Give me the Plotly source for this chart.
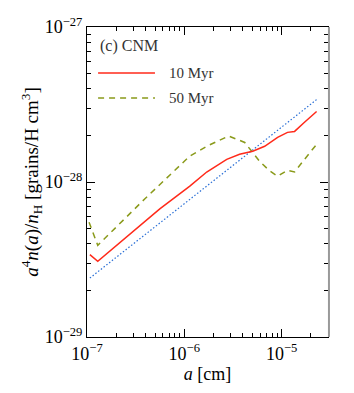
import plotly.graph_objects as go

# grain size a [cm] and a^4 n(a)/n_H [grains/H cm^3]
a_10 = [1.07e-7, 1.29e-7, 5.6e-7, 1.14e-6, 1.70e-6, 2.73e-6, 3.7e-6, 5.05e-6,
        6.7e-6, 9.1e-6, 1.15e-5, 1.36e-5, 1.72e-5, 2.29e-5]
y_10 = [3.4e-29, 3.08e-29, 6.7e-29, 9.4e-29, 1.16e-28, 1.40e-28, 1.51e-28, 1.58e-28,
        1.70e-28, 1.94e-28, 2.09e-28, 2.12e-28, 2.43e-28, 2.85e-28]

a_50 = [1.05e-7, 1.29e-7, 3.94e-7, 7.6e-7, 1.14e-6, 1.70e-6, 2.21e-6, 2.85e-6,
        4.18e-6, 5.05e-6, 5.94e-6, 7.53e-6, 9.1e-6, 1.15e-5, 1.36e-5, 1.72e-5, 2.29e-5]
y_50 = [5.5e-29, 3.9e-29, 7.8e-29, 1.16e-28, 1.47e-28, 1.70e-28, 1.83e-28, 1.98e-28,
        1.80e-28, 1.56e-28, 1.36e-28, 1.18e-28, 1.09e-28, 1.19e-28, 1.16e-28, 1.40e-28, 1.75e-28]

a_ref = [1.07e-7, 2.29e-5]
y_ref = [2.4e-29, 3.4e-28]

RED = "#ff2a1a"
OLIVE = "#8a9a1a"
BLUE = "#2a6fd6"
FONT = "Liberation Serif"

xticks = [1e-7, 1e-6, 1e-5]
xtick_text = ["10<sup>−7</sup>", "10<sup>−6</sup>", "10<sup>−5</sup>"]
yticks = [1e-29, 1e-28, 1e-27]
ytick_text = ["10<sup>−29</sup>", "10<sup>−28</sup>", "10<sup>−27</sup>"]
x_minor = [m * 10.0 ** e for e in (-7, -6, -5) for m in range(2, 10)]
y_minor = [m * 10.0 ** e for e in (-29, -28) for m in range(2, 10)]

fig = go.Figure()
fig.add_trace(go.Scatter(x=a_ref, y=y_ref, mode="lines",
                         line=dict(color=BLUE, width=1.2, dash="1.5px,2px")))
fig.add_trace(go.Scatter(x=a_50, y=y_50, mode="lines",
                         line=dict(color=OLIVE, width=1.5, dash="6px,5px")))
fig.add_trace(go.Scatter(x=a_10, y=y_10, mode="lines",
                         line=dict(color=RED, width=1.5)))

axis_common = dict(
    type="log", showgrid=False, zeroline=False, showline=True, linecolor="black",
    linewidth=1, mirror="allticks", ticks="inside", ticklen=8, tickcolor="black",
    automargin=False,
    tickfont=dict(family=FONT, size=18, color="black"),
)

fig.update_xaxes(**axis_common, range=[-7, -4.523], tickvals=xticks, ticktext=xtick_text,
                 minor=dict(tickvals=x_minor, ticks="inside", ticklen=4, tickcolor="black", showgrid=False),
                 title=dict(text="<i>a</i> [cm]", font=dict(family=FONT, size=18, color="black"),
                            standoff=0))
fig.update_yaxes(**axis_common, range=[-29, -27], tickvals=yticks, ticktext=ytick_text,
                 minor=dict(tickvals=y_minor, ticks="inside", ticklen=4, tickcolor="black", showgrid=False),
                 title=dict(text="<i>a</i><sup>4</sup><i>n</i>(<i>a</i>)/<i>n</i><sub>H</sub> [grains/H cm<sup>3</sup>]",
                            font=dict(family=FONT, size=19, color="black"), standoff=0))

# gray right frame edge as in the original
fig.add_shape(type="line", xref="paper", yref="paper", x0=1.004, x1=1.004, y0=0, y1=1,
              line=dict(color="#999999", width=2))

# legend drawn by hand
fig.add_shape(type="line", xref="paper", yref="paper", x0=0.046, x1=0.282, y0=0.852, y1=0.852,
              line=dict(color=RED, width=1.5))
fig.add_shape(type="line", xref="paper", yref="paper", x0=0.046, x1=0.282, y0=0.771, y1=0.771,
              line=dict(color=OLIVE, width=1.5, dash="6px,5px"))
for txt, yy in [("10 Myr", 0.852), ("50 Myr", 0.771)]:
    fig.add_annotation(text=txt, xref="paper", yref="paper", x=0.33, y=yy, xanchor="left",
                       yanchor="middle", showarrow=False,
                       font=dict(family=FONT, size=15, color="#333333"))
fig.add_annotation(text="(c) CNM", xref="paper", yref="paper", x=0.046, y=0.939, xanchor="left",
                   yanchor="middle", showarrow=False, font=dict(family=FONT, size=16, color="#333333"))

# page body adds an 8px margin, so the figure is 8px smaller on each axis
fig.update_layout(
    width=346, height=385, showlegend=False,
    paper_bgcolor="white", plot_bgcolor="white",
    margin=dict(l=79, r=26, t=19, b=56),
)
fig.write_html("out.html")
